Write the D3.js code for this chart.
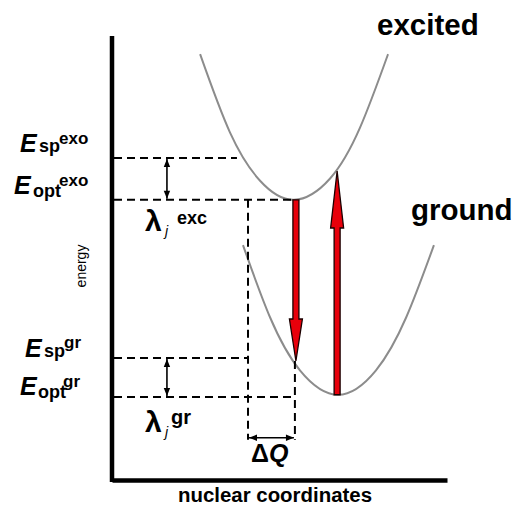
<!DOCTYPE html>
<html>
<head>
<meta charset="utf-8">
<script src="https://cdn.jsdelivr.net/npm/d3@7"></script>
<style>
  html, body { margin: 0; padding: 0; background: #fff; }
  svg { display: block; font-family: "Liberation Sans", Arial, sans-serif; }
</style>
</head>
<body>
<svg id="chart" width="519" height="512"></svg>
<script>
// Potential energy curves (nuclear coordinate Q, energy E), both axes in 0–10 units
const excitedQ = [2.63, 3.52, 4.42, 5.43, 6.51, 7.40, 8.24];
const excitedE = [9.59, 7.83, 6.74, 6.31, 6.79, 7.93, 9.59];
const groundQ  = [3.91, 4.72, 5.61, 6.75, 7.88, 8.78, 9.61];
const groundE  = [5.29, 3.66, 2.47, 1.92, 2.47, 3.66, 5.29];

// Energy levels (dashed guides): name, energy, right end along Q
const levelNames = ["Esp_exo", "Eopt_exo", "Esp_gr", "Eopt_gr"];
const levelE     = [7.25, 6.31, 2.75, 1.87];
const levelQEnd  = [3.73, 5.49, 4.06, 5.46];

// Vertical transitions: emission (down) and absorption (up)
const transitionQ     = [5.49, 6.72];
const transitionFrom  = [6.31, 1.92];
const transitionTo    = [2.68, 6.96];

// Displacement between minima
const deltaQStart = 4.06, deltaQEnd = 5.46, deltaQLevel = 0.95;
const reorgQ = 1.64;   // where the reorganisation-energy double arrows sit

const svg = d3.select("#chart");
const x = d3.scaleLinear().domain([0, 10]).range([112, 447]);
const y = d3.scaleLinear().domain([0, 10]).range([480, 36]);

// Axes without ticks
svg.append("g").attr("transform", `translate(0,${y(0)})`)
  .call(d3.axisBottom(x).ticks(0).tickSizeOuter(0))
  .call(g => g.select(".domain").attr("stroke", "#000").attr("stroke-width", 4.5));
svg.append("g").attr("transform", `translate(${x(0)},0)`)
  .call(d3.axisLeft(y).ticks(0).tickSizeOuter(0))
  .call(g => g.select(".domain").attr("stroke", "#000").attr("stroke-width", 4.5)
    .attr("d", `M0,${y(10)}V${y(0) + 2}`));

// Curves
const line = d3.line().x(d => x(d[0])).y(d => y(d[1])).curve(d3.curveNatural);
[[excitedQ, excitedE], [groundQ, groundE]].forEach(([qs, es]) => {
  svg.append("path")
    .attr("d", line(qs.map((q, i) => [q, es[i]])))
    .attr("fill", "none").attr("stroke", "#8c8c8c").attr("stroke-width", 2);
});

// Dashed guides
const dash = "8,5";
const dashed = (x1, y1, x2, y2) => svg.append("line")
  .attr("x1", x1).attr("y1", y1).attr("x2", x2).attr("y2", y2)
  .attr("stroke", "#000").attr("stroke-width", 2).attr("stroke-dasharray", dash);
levelE.forEach((e, i) => dashed(x(0) + 2, y(e), x(levelQEnd[i]), y(e)));
dashed(x(deltaQStart), y(levelE[1]), x(deltaQStart), y(deltaQLevel) + 2);
dashed(x(deltaQEnd), y(transitionTo[0]), x(deltaQEnd), y(deltaQLevel) + 2);

// Small black double arrows
function doubleArrow(x1, y1, x2, y2) {
  const ang = Math.atan2(y2 - y1, x2 - x1);
  const L = 8, W = 3.2;
  svg.append("line").attr("x1", x1).attr("y1", y1).attr("x2", x2).attr("y2", y2)
    .attr("stroke", "#000").attr("stroke-width", 1.6);
  [[x2, y2, ang], [x1, y1, ang + Math.PI]].forEach(([tx, ty, a]) => {
    const bx = tx - L * Math.cos(a), by = ty - L * Math.sin(a);
    const px = -Math.sin(a) * W, py = Math.cos(a) * W;
    svg.append("path")
      .attr("d", `M${tx},${ty}L${bx + px},${by + py}L${bx - px},${by - py}Z`)
      .attr("fill", "#000");
  });
}
doubleArrow(x(reorgQ), y(levelE[0]) + 1, x(reorgQ), y(levelE[1]) - 1);
doubleArrow(x(reorgQ), y(levelE[2]) + 1, x(reorgQ), y(levelE[3]) - 1);
doubleArrow(x(deltaQStart) + 1, y(deltaQLevel), x(deltaQEnd) - 1, y(deltaQLevel));

// Red transition arrows
const headLen = [42, 57];
transitionQ.forEach((q, i) => {
  const cx = x(q), y0 = y(transitionFrom[i]), y1 = y(transitionTo[i]);
  const dir = Math.sign(y1 - y0);
  const hb = y1 - dir * headLen[i];
  const sw = 3, hw = 6.5;
  const d = `M${cx - sw},${y0}L${cx - sw},${hb}L${cx - hw},${hb}L${cx},${y1}` +
            `L${cx + hw},${hb}L${cx + sw},${hb}L${cx + sw},${y0}Z`;
  svg.append("path").attr("d", d)
    .attr("fill", "#e8000b").attr("stroke", "#1a0000").attr("stroke-width", 1.3)
    .attr("stroke-linejoin", "miter");
});

// Text helpers
function txt(s, px, py, size, opts = {}) {
  return svg.append("text").attr("x", px).attr("y", py)
    .attr("font-size", size)
    .attr("font-weight", opts.weight || "bold")
    .attr("font-style", opts.italic ? "italic" : "normal")
    .attr("fill", "#000").text(s);
}
function energyLabel(sub, sup, px, py, subX, supX, subY, supY) {
  txt("E", px, py, 25, { italic: true });
  txt(sub, subX, subY, 18);
  txt(sup, supX, supY, 17);
}
energyLabel("sp",  "exo", 20, 152, 39, 59, 152, 144);
energyLabel("opt", "exo", 14, 194, 33, 59, 197, 186);
energyLabel("sp",  "gr",  25, 357, 44, 64, 357, 348);
energyLabel("opt", "gr",  20, 395, 38, 63, 398, 387);

// Reorganisation energies
txt("λ", 145, 231, 30);
txt("j", 165, 236, 14, { italic: true, weight: "normal" });
txt("exc", 177, 224, 18);
txt("λ", 145, 432, 30);
txt("j", 165, 437, 14, { italic: true, weight: "normal" });
txt("gr", 171, 424, 20);

// ΔQ
const dq = svg.append("text").attr("x", 251).attr("y", 462)
  .attr("font-size", 25).attr("font-weight", "bold");
dq.append("tspan").text("Δ");
dq.append("tspan").attr("font-style", "italic").text("Q");

// Curve names
txt("excited", 377, 35, 29.5);
txt("ground", 411, 220, 29.5);

// Axis titles
txt("nuclear  coordinates", 178, 502, 19.5)
  .attr("textLength", 194).attr("lengthAdjust", "spacingAndGlyphs");
svg.append("text")
  .attr("transform", "translate(86,266) rotate(-90)")
  .attr("text-anchor", "middle")
  .attr("font-size", 14)
  .text("energy");
</script>
</body>
</html>
